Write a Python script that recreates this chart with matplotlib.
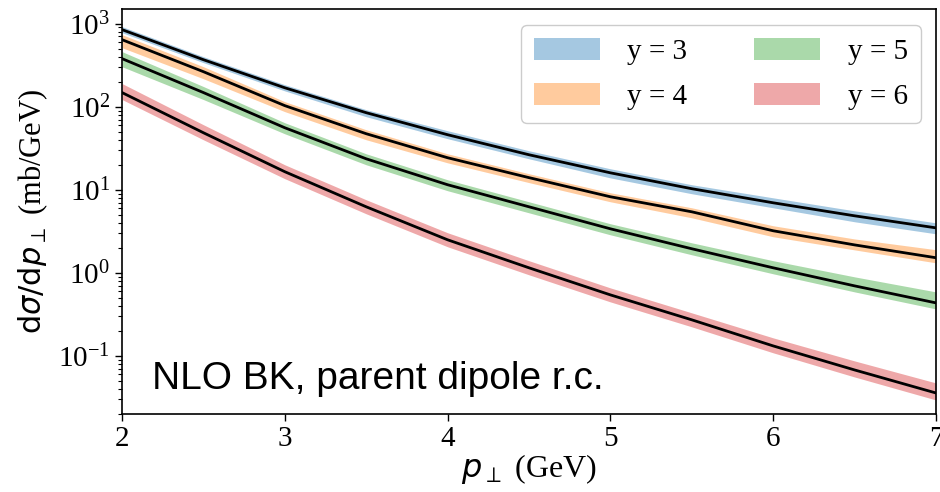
import matplotlib
matplotlib.use("Agg")
import matplotlib.pyplot as plt
import numpy as np

plt.rcParams['font.family'] = ['Liberation Serif', 'DejaVu Serif']
plt.rcParams['mathtext.fontset'] = 'stix'

pt = [2.0, 2.5, 3.0, 3.5, 4.0, 4.5, 5.0, 5.5, 6.0, 6.5, 7.0]

labels = ["y = 3", "y = 4", "y = 5", "y = 6"]
colors = ["#1f77b4", "#ff7f0e", "#2ca02c", "#d62728"]

y3_central = [847, 368, 169, 84.7, 46.0, 26.4, 16.0, 10.3, 6.97, 4.86, 3.48]
y3_upper = [921, 400, 184, 92.1, 51.4, 29.5, 17.9, 11.5, 8.0, 5.58, 4.0]
y3_lower = [779, 339, 155, 75.8, 41.2, 23.6, 13.9, 8.96, 6.07, 4.12, 2.95]

y4_central = [641, 264, 103, 47.3, 24.3, 14.0, 8.24, 5.43, 3.21, 2.17, 1.52]
y4_upper = [737, 303, 115, 52.8, 27.1, 15.6, 9.2, 6.07, 3.69, 2.56, 1.90]
y4_lower = [513, 217, 87.2, 40.0, 21.1, 12.2, 7.17, 4.60, 2.72, 1.89, 1.32]

y5_central = [379, 148, 55.8, 23.6, 11.5, 6.24, 3.39, 1.95, 1.15, 0.697, 0.435]
y5_upper = [460, 175, 64.1, 27.1, 13.2, 7.17, 3.90, 2.30, 1.40, 0.895, 0.590]
y5_lower = [303, 122, 47.2, 20.0, 9.74, 5.28, 2.87, 1.65, 0.974, 0.590, 0.368]

y6_central = [148, 48.6, 16.5, 6.24, 2.50, 1.15, 0.543, 0.272, 0.132, 0.0678, 0.0358]
y6_upper = [190, 60.7, 20.0, 7.58, 3.04, 1.40, 0.659, 0.330, 0.165, 0.0871, 0.0473]
y6_lower = [122, 40.0, 13.6, 5.14, 2.06, 0.947, 0.447, 0.224, 0.109, 0.0558, 0.0295]

centrals = [y3_central, y4_central, y5_central, y6_central]
uppers = [y3_upper, y4_upper, y5_upper, y6_upper]
lowers = [y3_lower, y4_lower, y5_lower, y6_lower]

fig = plt.figure(figsize=(9.4, 4.92), dpi=100)
ax = fig.add_axes([122/940, 78/492, (936-122)/940, (414-9)/492])

for c, u, l, col, lab in zip(centrals, uppers, lowers, colors, labels):
    ax.fill_between(pt, l, u, color=col, alpha=0.4, linewidth=0, label=lab)
for c in centrals:
    ax.plot(pt, c, color='black', lw=2)

ax.set_yscale('log')
ax.set_xlim(2, 7)
ax.set_ylim(0.02, 1500)
ax.set_xticks([2, 3, 4, 5, 6, 7])
ax.tick_params(axis='both', which='major', labelsize=21, length=5, width=1)
ax.tick_params(axis='y', which='minor', length=3, width=0.8)
for s in ax.spines.values():
    s.set_linewidth(1.2)

ax.set_xlabel(r'$p_\perp$ (GeV)', fontsize=23, math_fontfamily='dejavusans', labelpad=0)
ax.set_ylabel(r'$\mathrm{d}\sigma/\mathrm{d}p_\perp$ (mb/GeV)', fontsize=22,
              math_fontfamily='dejavusans', labelpad=6)

ax.text(0.037, 0.087, 'NLO BK, parent dipole r.c.', transform=ax.transAxes,
        fontsize=28, family=['Liberation Sans', 'DejaVu Sans'], va='center', ha='left')

leg = ax.legend(loc='upper right', ncol=2, fontsize=21, handlelength=2.25, handleheight=0.8,
                handletextpad=0.95, columnspacing=2.3, borderpad=0.45, labelspacing=0.6,
                borderaxespad=0, bbox_to_anchor=(0.9816, 0.9605),
                framealpha=1.0, edgecolor='#cccccc')

fig.savefig('out.png', dpi=100)
